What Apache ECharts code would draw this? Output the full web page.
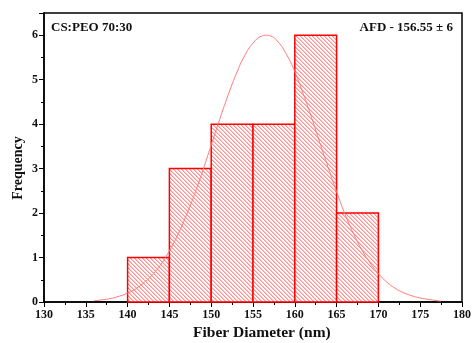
<!DOCTYPE html>
<html><head><meta charset="utf-8">
<script src="https://cdn.jsdelivr.net/npm/echarts@6/dist/echarts.min.js"></script>
<style>html,body{margin:0;padding:0;background:#fff}#c{width:474px;height:343px}</style>
</head><body><div id="c"></div>
<script>
// Histogram bins (nm) and frequencies
const binStart = [140, 145, 150, 155, 160, 165];
const binEnd   = [145, 150, 155, 160, 165, 170];
const counts   = [1, 3, 4, 4, 6, 2];
// Fitted distribution curve
const curveX = [136,137,138,139,140,141,142,143,144,145,146,147,148,149,150,151,152,153,154,155,156,156.55,157,158,159,160,161,162,163,164,165,166,167,168,169,170,171,172,173,174,175,176,177,177.5];
const curveY = [0.03,0.05,0.08,0.13,0.20,0.30,0.44,0.62,0.85,1.15,1.51,1.94,2.42,2.96,3.53,4.10,4.64,5.13,5.54,5.82,5.98,6.00,5.99,5.85,5.57,5.18,4.69,4.15,3.58,3.02,2.48,1.98,1.55,1.18,0.88,0.64,0.45,0.31,0.21,0.14,0.09,0.06,0.03,0.02];
const xTicks = [130,135,140,145,150,155,160,165,170,175,180];
const yTicks = [0,1,2,3,4,5,6];

const binData = binStart.map((s, i) => [s, binEnd[i], counts[i]]);
const curveData = curveX.map((x, i) => [x, curveY[i]]);

// hatch pattern
const pc = document.createElement('canvas');
pc.width = 4; pc.height = 4;
const pctx = pc.getContext('2d');
pctx.fillStyle = '#fff';
pctx.fillRect(0,0,4,4);
for (let i = 0; i < 4; i++) {
  pctx.fillStyle = '#ff9090';
  pctx.fillRect(i, i, 1, 1);
  pctx.fillStyle = '#ffc4c4';
  pctx.fillRect((i + 1) % 4, i, 1, 1);
}

const font = '"Liberation Serif", "Times New Roman", serif';
const chart = echarts.init(document.getElementById('c'));
chart.setOption({
  animation: false,
  backgroundColor: '#fff',
  title: [
    {text: 'CS:PEO 70:30', left: 46, top: 16, textStyle: {fontFamily: font, fontWeight: 'bold', fontSize: 13, color: '#111'}},
    {text: 'AFD - 156.55 ± 6', right: 16, top: 16, textStyle: {fontFamily: font, fontWeight: 'bold', fontSize: 13, color: '#111'}}
  ],
  graphic: [
    {type: 'text', left: 193, top: 325, style: {text: 'Fiber Diameter (nm)', font: 'bold 15.5px ' + font, fill: '#111'}},
    {type: 'text', x: 18, y: 168, rotation: Math.PI / 2, style: {text: 'Frequency', font: 'bold 14px ' + font, fill: '#111', align: 'center', verticalAlign: 'middle'}, originX: 0, originY: 0}
  ],
  grid: {left: 44, right: 8, top: 13, bottom: 41, show: true, borderColor: '#000', borderWidth: 1.5, backgroundColor: 'transparent'},
  xAxis: {
    type: 'value', min: xTicks[0], max: xTicks[xTicks.length - 1], interval: 5,
    axisLine: {show: true, lineStyle: {color: '#000', width: 1.5}},
    axisTick: {show: true, inside: false, length: 5, lineStyle: {color: '#000', width: 1}},
    minorTick: {show: true, splitNumber: 2, length: 3, lineStyle: {color: '#000', width: 1}},
    axisLabel: {fontFamily: font, fontWeight: 'bold', fontSize: 12, color: '#111', margin: 7},
    splitLine: {show: false}
  },
  yAxis: {
    type: 'value', min: 0, max: 6.5, interval: 1,
    axisLine: {show: true, lineStyle: {color: '#000', width: 1.5}},
    axisTick: {show: true, inside: false, length: 5, lineStyle: {color: '#000', width: 1}},
    minorTick: {show: true, splitNumber: 2, length: 3, lineStyle: {color: '#000', width: 1}},
    axisLabel: {fontFamily: font, fontWeight: 'bold', fontSize: 12, color: '#111', margin: 6,
      formatter: v => (yTicks.indexOf(v) >= 0 ? String(v) : '')},
    splitLine: {show: false}
  },
  series: [
    {
      type: 'custom',
      data: binData,
      encode: {x: [0, 1], y: 2},
      z: 2,
      renderItem: function (params, api) {
        const p0 = api.coord([api.value(0), api.value(2)]);
        const p1 = api.coord([api.value(1), 0]);
        return {
          type: 'rect',
          shape: {x: p0[0], y: p0[1], width: p1[0] - p0[0], height: p1[1] - p0[1]},
          style: {fill: {image: pc, repeat: 'repeat'}, stroke: '#ff0000', lineWidth: 1.5}
        };
      }
    },
    {
      type: 'line',
      data: curveData,
      smooth: true,
      showSymbol: false,
      z: 3,
      lineStyle: {color: '#ff7a7a', width: 1}
    }
  ]
});
</script></body></html>
